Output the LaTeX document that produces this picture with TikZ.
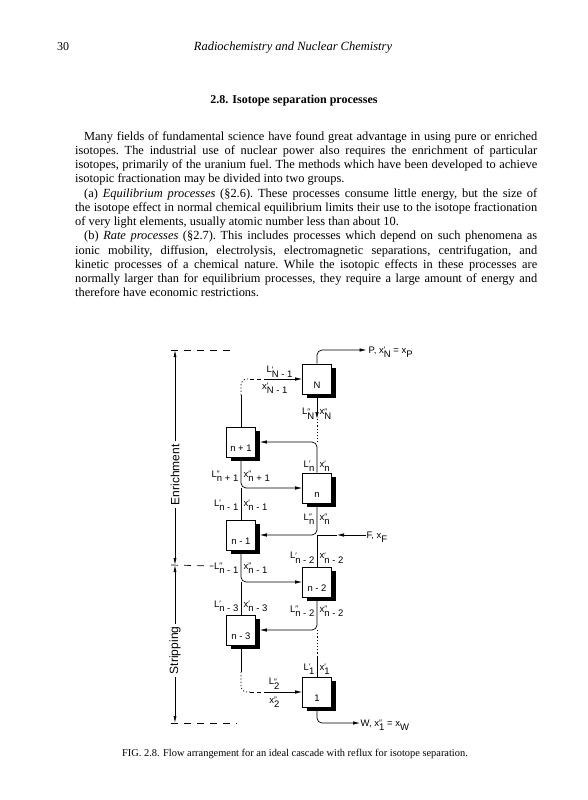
\documentclass[tikz,border=0pt]{standalone}
\usepackage{fontspec}
\setmainfont{Liberation Serif}
\newfontfamily\labfont{Liberation Sans}
\usetikzlibrary{arrows.meta, positioning, shadows, calc}

% flow symbol: letter, mark, subscript
\newcommand{\fl}[3]{#1\rlap{\raisebox{0.5pt}{\fontsize{8}{8}\selectfont #2}}\raisebox{-4.5pt}{#3}}
% stage number sits low in its box
\newcommand{\stg}[1]{\raisebox{-9pt}[0pt][0pt]{#1}}
% justified text line
\newcommand{\jl}[1]{\makebox[462pt][s]{#1}}

\begin{document}
\begin{tikzpicture}[x=1pt, y=-1pt,
    stagebox/.style={rectangle, draw=black, fill=white, line width=0.6pt,
                     minimum width=29pt, minimum height=30pt, inner sep=0pt,
                     font=\labfont\fontsize{9.5}{9.5}\selectfont,
                     drop shadow={shadow xshift=4pt, shadow yshift=-4pt, fill=black, opacity=1}},
    flowlab/.style={inner sep=0.5pt, text height=6pt, text depth=0pt,
                    font=\labfont\fontsize{9.5}{9.5}\selectfont},
    sidelab/.style={fill=white, rotate=90, inner sep=3pt,
                    font=\labfont\fontsize{12}{12}\selectfont},
    flowarrow/.style={-{Latex[length=7pt, width=3.5pt]}, line width=0.7pt, rounded corners=5pt},
    pipe/.style={line width=0.7pt, rounded corners=5pt},
    gapline/.style={line width=0.7pt, dash pattern=on 1.2pt off 2pt},
    omitline/.style={line width=0.7pt, dash pattern=on 4pt off 3pt},
    guideline/.style={line width=0.7pt, dash pattern=on 7pt off 6pt},
    scalebar/.style={{Latex[length=7pt, width=3pt]}-{Latex[length=7pt, width=3pt]}, line width=0.7pt}
  ]
  \fill[white] (0,0) rectangle (588,800);
  \useasboundingbox (0,0) rectangle (588,800);

  % page text
  \node[anchor=base west, inner sep=0pt, font=\fontsize{12}{13}\selectfont] (page) at (57,51) {30};
  \node[anchor=base, inner sep=0pt, font=\fontsize{12.5}{14}\selectfont\itshape] (head) at (293,51) {Radiochemistry and Nuclear Chemistry};
  \node[anchor=base, inner sep=0pt, font=\fontsize{12}{14}\selectfont\bfseries] (title) at (294,103) {2.8. Isotope separation processes};
  \node[anchor=base west, inner sep=0pt] (body) at (75,140) {\parbox[t]{462pt}{\fontsize{12.4}{14.27}\selectfont\frenchspacing
    \jl{\hspace*{9pt}Many fields of fundamental science have found great advantage in using pure or enriched}\\
    \jl{isotopes. The industrial use of nuclear power also requires the enrichment of particular}\\
    \jl{isotopes, primarily of the uranium fuel. The methods which have been developed to achieve}\\
    isotopic fractionation may be divided into two groups.\\
    \jl{\hspace*{9pt}(a) \textit{Equilibrium processes} (§2.6). These processes consume little energy, but the size of}\\
    \jl{the isotope effect in normal chemical equilibrium limits their use to the isotope fractionation}\\
    of very light elements, usually atomic number less than about 10.\\
    \jl{\hspace*{9pt}(b) \textit{Rate processes} (§2.7). This includes processes which depend on such phenomena as}\\
    \jl{ionic mobility, diffusion, electrolysis, electromagnetic separations, centrifugation, and}\\
    \jl{kinetic processes of a chemical nature. While the isotopic effects in these processes are}\\
    \jl{normally larger than for equilibrium processes, they require a large amount of energy and}\\
    therefore have economic restrictions.}};
  \node[anchor=base, inner sep=0pt, font=\fontsize{10.4}{12}\selectfont] (caption) at (295,756) {FIG. 2.8. Flow arrangement for an ideal cascade with reflux for isotope separation.};

  % stages
  \node[stagebox] (N) at (317,379) {\stg{N}};
  \node[stagebox] (n1) at (241,442) {\stg{n + 1}};
  \node[stagebox] (n) at (317,488) {\stg{n}};
  \node[stagebox] (m1) at (241,535) {\stg{n - 1}};
  \node[stagebox] (m2) at (317,582) {\stg{n - 2}};
  \node[stagebox] (m3) at (241,630) {\stg{n - 3}};
  \node[stagebox] (one) at (317,692) {\stg{1}};

  % product, feed and waste
  \node[flowlab, anchor=west] (P) at (368,350) {P, \fl{x}{′}{N} = \fl{x}{}{P}};
  \node[flowlab, anchor=west] (F) at (366,535) {F, \fl{x}{}{F}};
  \node[flowlab, anchor=west] (W) at (360,723) {W, \fl{x}{″}{1} = \fl{x}{}{W}};

  % flow labels
  \node[flowlab, above left=5.5pt and 9pt of N.west] (LN1) {\fl{L}{′}{N - 1}};
  \node[flowlab, below left=3.5pt and 14pt of N.west] (xN1) {\fl{x}{′}{N - 1}};
  \node[flowlab, below left=13.5pt and 2pt of N.south] (LN) {\fl{L}{″}{N}};
  \node[flowlab, below right=13.5pt and 2pt of N.south] (xN) {\fl{x}{″}{N}};
  \node[flowlab, above left=5pt and 2pt of n.north] (Ln) {\fl{L}{′}{n}};
  \node[flowlab, above right=5pt and 2pt of n.north] (xn) {\fl{x}{′}{n}};
  \node[flowlab, below left=13pt and 2pt of n1.south] (Ln1) {\fl{L}{″}{n + 1}};
  \node[flowlab, below right=13pt and 2pt of n1.south] (xn1) {\fl{x}{″}{n + 1}};
  \node[flowlab, above left=13pt and 2pt of m1.north] (Lm1a) {\fl{L}{′}{n - 1}};
  \node[flowlab, above right=13pt and 2pt of m1.north] (xm1a) {\fl{x}{′}{n - 1}};
  \node[flowlab, below left=10pt and 2pt of n.south] (Lnb) {\fl{L}{″}{n}};
  \node[flowlab, below right=10pt and 2pt of n.south] (xnb) {\fl{x}{″}{n}};
  \node[flowlab, above left=7.5pt and 2pt of m2.north] (Lm2a) {\fl{L}{′}{n - 2}};
  \node[flowlab, above right=7.5pt and 2pt of m2.north] (xm2a) {\fl{x}{′}{n - 2}};
  \node[flowlab, below left=12pt and 2pt of m1.south] (Lm1) {\fl{L}{″}{n - 1}};
  \node[flowlab, below right=12pt and 2pt of m1.south] (xm1) {\fl{x}{″}{n - 1}};
  \node[flowlab, above left=7pt and 2pt of m3.north] (Lm3a) {\fl{L}{′}{n - 3}};
  \node[flowlab, above right=7pt and 2pt of m3.north] (xm3a) {\fl{x}{′}{n - 3}};
  \node[flowlab, below left=8pt and 2pt of m2.south] (Lm2) {\fl{L}{″}{n - 2}};
  \node[flowlab, below right=8pt and 2pt of m2.south] (xm2) {\fl{x}{″}{n - 2}};
  \node[flowlab, above left=6pt and 2pt of one.north] (L1) {\fl{L}{′}{1}};
  \node[flowlab, above right=6pt and 2pt of one.north] (x1) {\fl{x}{′}{1}};
  \node[flowlab, above left=6.5pt and 22pt of one.west] (L2) {\fl{L}{″}{2}};
  \node[flowlab, below left=4.5pt and 22pt of one.west] (x2) {\fl{x}{″}{2}};

  % free ends of the broken lines
  \coordinate (tN) at (317,419);
  \coordinate (aN) at (241,395);
  \coordinate (bN) at (250,379);
  \coordinate (cN) at (266,379);
  \coordinate (a1) at (317,657);
  \coordinate (a2) at (241,672);
  \coordinate (b2) at (250,692);
  \coordinate (c2) at (266,692);
  \coordinate (fm) at (337,535);

  % top of the cascade
  \draw[flowarrow, shorten >=1.5pt] (N.north) |- (P.west);
  \draw[flowarrow] (N.south) -- (tN);
  \draw[gapline] (tN) -- (N.south |- n1.east);
  \draw[pipe] (n1.north) -- (aN);
  \draw[gapline, rounded corners=6pt] (aN) |- (bN);
  \draw[omitline] (bN) -- (cN);
  \draw[flowarrow] (cN) -- (N.west);

  % middle stages
  \draw[flowarrow, shorten >=4pt] (n.north) |- (n1.east);
  \draw[flowarrow] (n1.south) |- (n.west);
  \draw[pipe] (m1.north) -- (m1.north |- n.west);
  \draw[flowarrow, shorten >=4pt] (n.south) |- (m1.east);
  \draw[pipe] (m2.north) -- (m2.north |- m1.east);
  \draw[flowarrow] (F.west) -- (fm);
  \draw[pipe] (fm) -- (n.south |- m1.east);
  \draw[flowarrow] (m1.south) |- (m2.west);
  \draw[pipe] (m3.north) -- (m3.north |- m2.west);
  \draw[flowarrow, shorten >=4pt] (m2.south) |- (m3.east);

  % bottom of the cascade
  \draw[gapline] (m2.south |- m3.east) -- (a1);
  \draw[pipe] (a1) -- (one.north);
  \draw[pipe] (m3.south) -- (a2);
  \draw[gapline, rounded corners=6pt] (a2) |- (b2);
  \draw[omitline] (b2) -- (c2);
  \draw[flowarrow] (c2) -- (one.west);
  \draw[flowarrow] (one.south) |- (W.west);

  % enrichment and stripping sections
  \coordinate (top) at (175,350);
  \coordinate (mid) at (175,565);
  \coordinate (bot) at (175,723);
  \draw[scalebar] (top) -- (mid) node[sidelab, pos=0.58] (enrich) {Enrichment};
  \draw[scalebar] (mid) -- (bot) node[sidelab, pos=0.54] (strip) {Stripping};
  \draw[guideline] ($(top)+(-4,0)$) -- ++(63,0);
  \draw[guideline] ($(mid)+(-4,0)$) -- (Lm1.west);
  \draw[guideline] ($(bot)+(-4,0)$) -- ++(66,0);
\end{tikzpicture}
\end{document}
